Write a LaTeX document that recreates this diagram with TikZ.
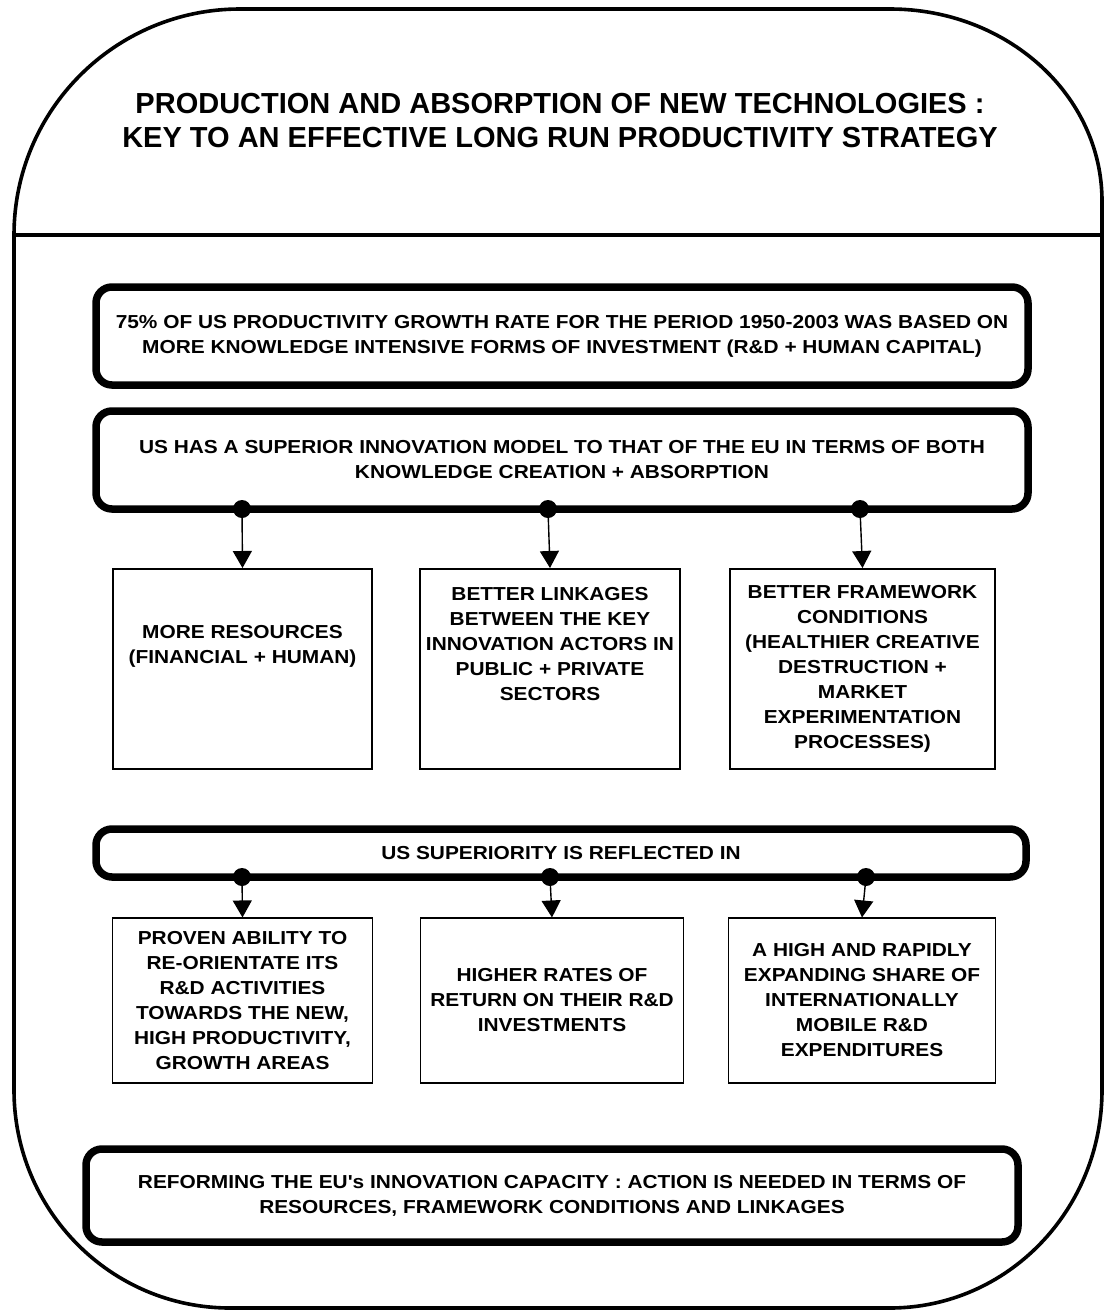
\documentclass[tikz,border=0pt]{standalone}
\usepackage{fontspec}
\usetikzlibrary{arrows.meta}
\newfontfamily\titlefont{Liberation Sans}
\newfontfamily\bodyfont{Liberation Sans}[FakeStretch=1.11]
\begin{document}
\begin{tikzpicture}[x=1pt,y=-1pt,
  outerline/.style={line width=3.6pt},
  bodytext/.style={align=center, font=\bodyfont\bfseries\fontsize{18.8}{25}\selectfont},
  thickbox/.style={bodytext, draw, line width=7.5pt, rounded corners=16pt, inner sep=0pt},
  midbox/.style={bodytext, draw, line width=2pt, inner sep=0pt},
  thinbox/.style={bodytext, draw, line width=1.1pt, inner sep=0pt},
  dot/.style={circle, fill=black, inner sep=0pt, minimum size=18pt},
  conn/.style={line width=1.4pt, -{Triangle[width=19pt,length=17pt]}}
]
\useasboundingbox (0,0) rectangle (1104,1312);
% outer frame
\draw[outerline] (14,235) arc[start angle=180,end angle=90,x radius=226pt,y radius=226pt]
  -- (890,9) arc[start angle=90,end angle=0,x radius=212pt,y radius=192pt]
  -- (1102,1090) arc[start angle=0,end angle=-90,x radius=212pt,y radius=218pt]
  -- (230,1308) arc[start angle=270,end angle=180,x radius=216pt,y radius=218pt]
  -- cycle;
\draw[outerline] (14,235) -- (1104,235);
% title
\node[align=center, font=\titlefont\bfseries\fontsize{29}{34}\selectfont] (title) at (560,121)
  {PRODUCTION AND ABSORPTION OF NEW TECHNOLOGIES :\\KEY TO AN EFFECTIVE LONG RUN PRODUCTIVITY STRATEGY};
% thick boxes
\node[thickbox, minimum width=932, minimum height=98] (b1) at (562,336)
  {75\% OF US PRODUCTIVITY GROWTH RATE FOR THE PERIOD 1950-2003 WAS BASED ON\\MORE KNOWLEDGE INTENSIVE FORMS OF INVESTMENT (R\&D + HUMAN CAPITAL)};
\node[thickbox, minimum width=932, minimum height=98] (b2) at (562,460)
  {US HAS A SUPERIOR INNOVATION MODEL TO THAT OF THE EU IN TERMS OF BOTH\\KNOWLEDGE CREATION + ABSORPTION};
\node[thickbox, minimum width=930, minimum height=48] (b3) at (561,853)
  {US SUPERIORITY IS REFLECTED IN};
\node[thickbox, minimum width=932, minimum height=93] (b4) at (552,1195.5)
  {REFORMING THE EU's INNOVATION CAPACITY : ACTION IS NEEDED IN TERMS OF\\RESOURCES, FRAMEWORK CONDITIONS AND LINKAGES};
% first row
\node[midbox, minimum width=259, minimum height=200] (ra) at (242.5,669)
  {MORE RESOURCES\\(FINANCIAL + HUMAN)\\~\\~};
\node[midbox, minimum width=260, minimum height=200] (rb) at (550,669)
  {BETTER LINKAGES\\BETWEEN THE KEY\\INNOVATION ACTORS IN\\PUBLIC + PRIVATE\\SECTORS\\~\\~};
\node[midbox, minimum width=265, minimum height=200] (rc) at (862.5,669)
  {BETTER FRAMEWORK\\CONDITIONS\\(HEALTHIER CREATIVE\\DESTRUCTION +\\MARKET\\EXPERIMENTATION\\PROCESSES)};
% second row
\node[thinbox, minimum width=260, minimum height=165] (sa) at (242.5,1000.5)
  {PROVEN ABILITY TO\\RE-ORIENTATE ITS\\R\&D ACTIVITIES\\TOWARDS THE NEW,\\HIGH PRODUCTIVITY,\\GROWTH AREAS};
\node[thinbox, minimum width=263, minimum height=165] (sb) at (552,1000.5)
  {HIGHER RATES OF\\RETURN ON THEIR R\&D\\INVESTMENTS};
\node[thinbox, minimum width=267, minimum height=165] (sc) at (862,1000.5)
  {A HIGH AND RAPIDLY\\EXPANDING SHARE OF\\INTERNATIONALLY\\MOBILE R\&D\\EXPENDITURES};
% dots
\node[dot] (p1) at (242,509) {};
\node[dot] (p2) at (548,509) {};
\node[dot] (p3) at (860,509) {};
\node[dot] (q1) at (242,877) {};
\node[dot] (q2) at (550,877) {};
\node[dot] (q3) at (866,877) {};
% connectors
\draw[conn] (p1.center) -- (ra.north);
\draw[conn] (p2.center) -- (rb.north);
\draw[conn] (p3.center) -- (rc.north);
\draw[conn] (q1.center) -- (sa.north);
\draw[conn] (q2.center) -- (sb.north);
\draw[conn] (q3.center) -- (sc.north);
\end{tikzpicture}
\end{document}
